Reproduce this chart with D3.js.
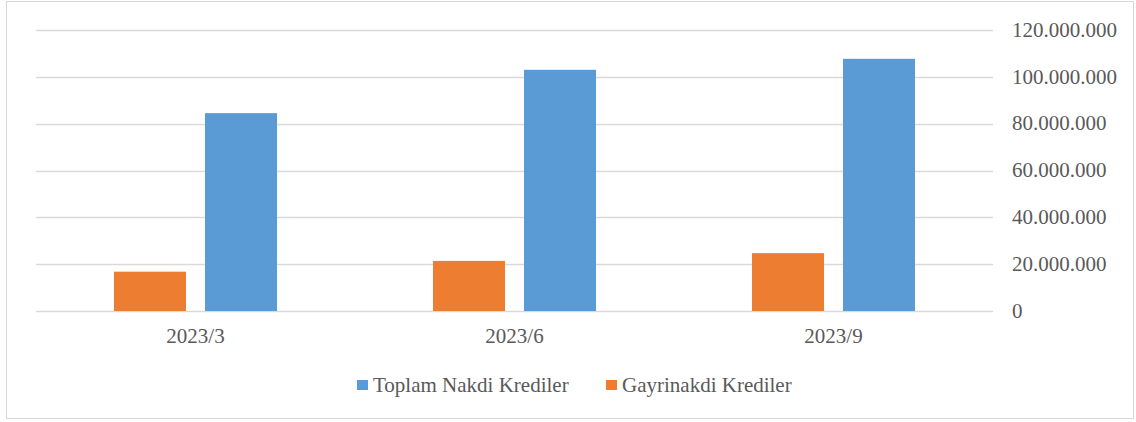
<!DOCTYPE html>
<html>
<head>
<meta charset="utf-8">
<script src="https://cdn.jsdelivr.net/npm/d3@7"></script>
<style>
  body { margin: 0; background: #fff; }
  text { font-family: "Liberation Serif", "Times New Roman", serif; fill: #595959; }
</style>
</head>
<body>
<div id="chart"></div>
<script>
// data
var categories = ["2023/3", "2023/6", "2023/9"];
var toplamNakdi = [84500000, 103000000, 107700000];
var gayrinakdi = [16800000, 21400000, 24700000];
var yTicks = [0, 20000000, 40000000, 60000000, 80000000, 100000000, 120000000];

var seriesNames = ["Gayrinakdi Krediler", "Toplam Nakdi Krediler"];
var legendOrder = ["Toplam Nakdi Krediler", "Gayrinakdi Krediler"];
var colors = {"Toplam Nakdi Krediler": "#5b9bd5", "Gayrinakdi Krediler": "#ed7d31"};

var W = 1136, H = 422;
var plot = {left: 36, right: 993, top: 30, bottom: 311};

var svg = d3.select("#chart").append("svg")
    .attr("width", W)
    .attr("height", H);

// outer border
svg.append("rect")
    .attr("x", 6.5).attr("y", 1.5)
    .attr("width", 1127).attr("height", 417)
    .attr("fill", "none")
    .attr("stroke", "#d9d9d9")
    .attr("stroke-width", 1);

var y = d3.scaleLinear()
    .domain([0, 120000000])
    .range([plot.bottom, plot.top]);

var x0 = d3.scaleBand()
    .domain(categories)
    .range([plot.left, plot.right]);

var x1 = d3.scaleBand()
    .domain(seriesNames)
    .range([78, 241])
    .paddingInner(19 / 91);

var fmt = d3.formatLocale({decimal: ",", thousands: ".", grouping: [3], currency: ["", ""]}).format(",");

// gridlines
svg.append("g").selectAll("line")
    .data(yTicks)
    .enter().append("line")
    .attr("x1", plot.left).attr("x2", plot.right)
    .attr("y1", function(d) { return Math.round(y(d)) + 0.5; })
    .attr("y2", function(d) { return Math.round(y(d)) + 0.5; })
    .attr("stroke", "#d9d9d9")
    .attr("stroke-width", 1.3);

// right axis labels
var yAxis = d3.axisRight(y).tickValues(yTicks).tickFormat(fmt).tickSize(0).tickPadding(0);
var yAxisG = svg.append("g")
    .attr("transform", "translate(1012,0)")
    .call(yAxis);
yAxisG.select(".domain").remove();
yAxisG.selectAll("text")
    .attr("fill", "#595959")
    .style("font-size", "21px")
    .style("font-family", "'Liberation Serif', 'Times New Roman', serif")
    .attr("dy", "0.3em");

// bars
var rows = categories.map(function(c, i) {
  return {cat: c, values: [
    {name: "Gayrinakdi Krediler", value: gayrinakdi[i]},
    {name: "Toplam Nakdi Krediler", value: toplamNakdi[i]}
  ]};
});

var groups = svg.append("g").selectAll("g")
    .data(rows)
    .enter().append("g")
    .attr("transform", function(d) { return "translate(" + x0(d.cat) + ",0)"; });

groups.selectAll("rect")
    .data(function(d) { return d.values; })
    .enter().append("rect")
    .attr("x", function(d) { return x1(d.name); })
    .attr("width", x1.bandwidth())
    .attr("y", function(d) { return y(d.value); })
    .attr("height", function(d) { return y(0) - y(d.value); })
    .attr("fill", function(d) { return colors[d.name]; });

// x axis labels
var xAxis = d3.axisBottom(x0).tickSize(0).tickPadding(0);
var xAxisG = svg.append("g")
    .attr("transform", "translate(0,327)")
    .call(xAxis);
xAxisG.select(".domain").remove();
xAxisG.selectAll("text")
    .attr("fill", "#595959")
    .attr("dy", "0.75em")
    .style("font-size", "21px")
    .style("font-family", "'Liberation Serif', 'Times New Roman', serif");

// legend
var legendX = [357, 606];
var legend = svg.append("g").selectAll("g")
    .data(legendOrder)
    .enter().append("g")
    .attr("transform", function(d, i) { return "translate(" + legendX[i] + ",380)"; });

legend.append("rect")
    .attr("width", 11).attr("height", 10)
    .attr("fill", function(d) { return colors[d]; });

legend.append("text")
    .attr("x", 16)
    .attr("y", 12)
    .style("font-size", "21px")
    .text(function(d) { return d; });
</script>
</body>
</html>
